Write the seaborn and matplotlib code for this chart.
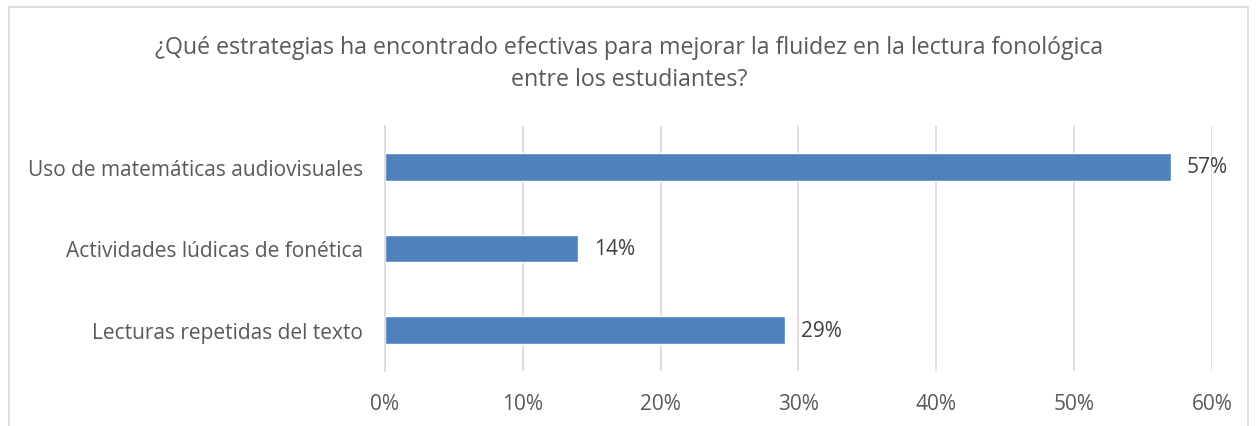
import matplotlib
matplotlib.use("Agg")
import matplotlib.pyplot as plt
import seaborn as sns
import pandas as pd
from matplotlib.patches import Rectangle

categories = ["Uso de matemáticas audiovisuales", "Actividades lúdicas de fonética", "Lecturas repetidas del texto"]
values = [57, 14, 29]
tick_values = [0, 10, 20, 30, 40, 50, 60]
tick_labels = ["0%", "10%", "20%", "30%", "40%", "50%", "60%"]
title = "¿Qué estrategias ha encontrado efectivas para mejorar la fluidez en la lectura fonológica\nentre los estudiantes?"

sns.set_theme(style="white")
plt.rcParams['font.family'] = ['Open Sans', 'DejaVu Sans']

df = pd.DataFrame({"cat": categories, "val": values})

fig = plt.figure(figsize=(12.58, 4.27), dpi=100)
ax = fig.add_axes([0.306, 0.1288, 0.6574, 0.5738])

sns.barplot(data=df, x="val", y="cat", orient="h", color="#4F81BD", saturation=1,
            width=0.34, ax=ax)

ax.set_xlim(0, 60)
ax.set_xticks(tick_values)
ax.set_xticklabels(tick_labels)
ax.grid(axis="x", color="#D9D9D9", linewidth=1.2)
ax.set_axisbelow(True)
for s in ["top", "right", "bottom"]:
    ax.spines[s].set_visible(False)
ax.spines["left"].set_color("#D9D9D9")
ax.spines["left"].set_linewidth(1.2)
ax.tick_params(axis="both", length=0, labelsize=15, labelcolor="#595959")
ax.tick_params(axis="x", pad=16)
ax.tick_params(axis="y", pad=16)
ax.set_xlabel("")
ax.set_ylabel("")

for i, v in enumerate(values):
    ax.annotate(f"{v}%", xy=(v, i), xytext=(11.5, 0), textcoords="offset points",
                va="center", ha="left", fontsize=15, color="#404040")

fig.text(0.5, 1 - 64/427, title, ha="center", va="center", fontsize=16.7,
         color="#595959", linespacing=1.45)

fig.patches.append(Rectangle((9/1258, -0.05), (1248-9)/1258, 1.05 - 8/427,
                             transform=fig.transFigure, fill=False,
                             edgecolor="#D9D9D9", linewidth=1.2))

fig.savefig("out.png", dpi=100)
